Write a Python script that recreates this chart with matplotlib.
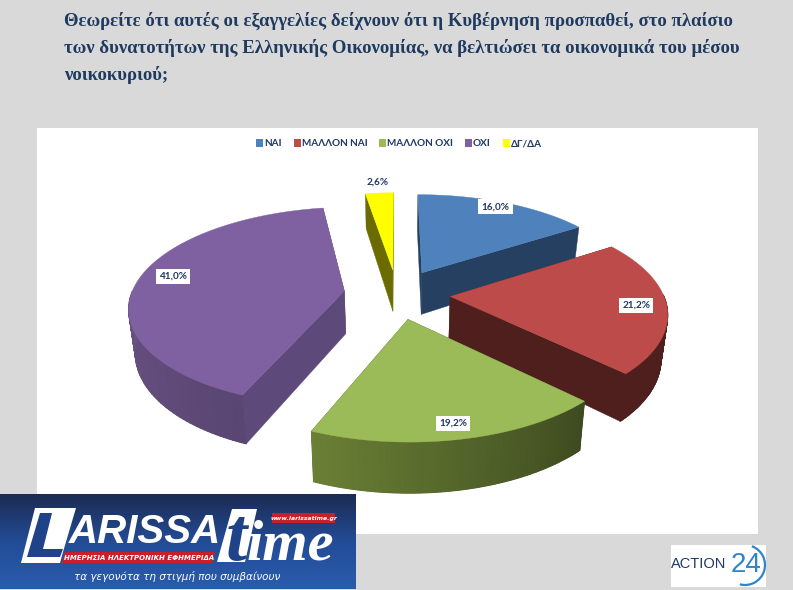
import numpy as np
import matplotlib
matplotlib.use('Agg')
import matplotlib.pyplot as plt
from matplotlib.patches import Polygon, Rectangle, Patch, Arc

# Chart data
title_lines = [
    'Θεωρείτε ότι αυτές οι εξαγγελίες δείχνουν ότι η Κυβέρνηση προσπαθεί, στο πλαίσιο',
    'των δυνατοτήτων της Ελληνικής Οικονομίας, να βελτιώσει τα οικονομικά του μέσου',
    'νοικοκυριού;',
]
categories = ['ΝΑΙ', 'ΜΑΛΛΟΝ ΝΑΙ', 'ΜΑΛΛΟΝ ΟΧΙ', 'ΟΧΙ', 'ΔΓ/ΔΑ']
values = [16.0, 21.2, 19.2, 41.0, 2.6]
top_colors = ['#4F81BD', '#BC4B49', '#9BBB59', '#7F60A0', '#FFFF00']
side_colors = ['#254061', '#4F1F1E', '#4A5A25', '#5E4A7A', '#6B6B00']
# outer wall shade at the start and at the end of each slice
wall_start = ['#254061', '#4F1F1E', '#3E4B20', '#5A4672', '#6B6B00']
wall_end = ['#254061', '#4F1F1E', '#6B8035', '#7A6199', '#6B6B00']
label_radius = [0.88, 0.86, 0.88, 0.83, 1.16]
label_nudge = [-3, 0, 0, -5, -1]

NAVY = '#1F3864'
CX, CY = 397, 294      # pie centre in picture pixels
RX, RY = 213, 100      # pie radii
PERSP = 0.152          # front of the pie is drawn bigger than the back
EXPLODE = 0.25
DEPTH = 43
SHRINK = 0.975         # bottom face is a little narrower than the top one


def proyectar(u, v):
    """Pie plane coordinates (v grows towards the viewer) to picture pixels."""
    s = 1 + PERSP * v
    return CX + RX * u * s, CY + RY * v * s


def bajar(x, y, v):
    """Same point on the bottom face of the pie."""
    return CX + (x - CX) * SHRINK, y + DEPTH * (1 + PERSP * v)


def punto_slice(ang, r, mid):
    u = EXPLODE * np.sin(mid) + r * np.sin(ang)
    v = -EXPLODE * np.cos(mid) - r * np.cos(ang)
    return u, v


def dibujar_slice(ax, i, a0, a1):
    mid = (a0 + a1) / 2
    top, side = top_colors[i], side_colors[i]
    angs = np.linspace(a0, a1, 120)
    ua, va = punto_slice(angs, 1.0, mid)
    xa, ya = proyectar(ua, va)
    uc, vc = punto_slice(mid, 0.0, mid)
    xc, yc = proyectar(uc, vc)
    xb, yb = bajar(xa, ya, va)
    xcb, ycb = bajar(xc, yc, vc)

    # cut faces
    for k in [0, -1]:
        cara = [(xc, yc), (xa[k], ya[k]), (xb[k], yb[k]), (xcb, ycb)]
        ax.add_patch(Polygon(cara, fc=side, ec=side, lw=0.3, zorder=2))

    # outer wall, only the part that faces the viewer
    c0 = np.array(matplotlib.colors.to_rgb(wall_start[i]))
    c1 = np.array(matplotlib.colors.to_rgb(wall_end[i]))
    vis = np.cos(angs) < 0.02
    if vis.sum() > 1:
        t = np.linspace(0, 1, len(angs))[vis]
        ax.add_patch(Polygon(np.column_stack([np.r_[xa[vis], xb[vis][::-1]], np.r_[ya[vis], yb[vis][::-1]]]),
                             fc=c0 * 0.5 + c1 * 0.5, ec='none', zorder=2))
        X = np.vstack([xa[vis], xb[vis]])
        Y = np.vstack([ya[vis], yb[vis]])
        C = c0[None, :] * (1 - t[:, None]) + c1[None, :] * t[:, None]
        ax.pcolormesh(X, Y, np.stack([C, C]), shading='gouraud', zorder=2)

    ax.add_patch(Polygon(np.column_stack([np.r_[xc, xa], np.r_[yc, ya]]), fc=top, ec=top, lw=0.3, zorder=2))


def dibujar_logo_larissa(ax):
    grad = np.linspace(0, 1, 95).reshape(-1, 1)
    ax.imshow(grad, extent=(0, 356, 589, 494), cmap=matplotlib.colors.LinearSegmentedColormap.from_list(
        'logo', ['#1C2B52', '#234C96', '#2A5CAC']), aspect='auto', zorder=5)
    ele = [(35, 508), (76, 508), (63, 552), (60, 563), (21, 563)]
    ax.add_patch(Polygon(ele, fc='white', ec='none', zorder=6))
    ele_int = [(40, 513), (52, 513), (43, 549), (63, 549), (60, 557), (27, 557)]
    ax.add_patch(Polygon(ele_int, fc='#1F4288', ec='none', zorder=6))
    ax.text(69, 543, 'ARISSA', color='white', fontsize=29, fontweight='bold', style='italic',
            family='Liberation Sans', va='baseline', zorder=7)
    ax.add_patch(Polygon([(232, 509), (257, 509), (245, 562), (217, 562)], fc='white', ec='none', zorder=6))
    ax.text(226, 560, 't', color='#1F4288', fontsize=55, fontweight='bold', style='italic',
            family='Liberation Serif', va='baseline', zorder=7)
    ax.text(247, 560, 'ime', color='white', fontsize=42, fontweight='bold', style='italic',
            family='Liberation Serif', va='baseline', zorder=7)
    ax.add_patch(Rectangle((272, 513), 63, 10, fc='#C8202B', ec='none', zorder=6))
    ax.text(303.5, 518.5, 'www.larissatime.gr', color='white', fontsize=4.4, fontweight='bold', style='italic',
            ha='center', va='center', zorder=7)
    ax.add_patch(Polygon([(65, 552), (215, 552), (212, 563), (62, 563)], fc='#C8202B', ec='none', zorder=6))
    ax.text(139, 557.5, 'ΗΜΕΡΗΣΙΑ ΗΛΕΚΤΡΟΝΙΚΗ ΕΦΗΜΕΡΙΔΑ', color='white', fontsize=5.0, fontweight='bold',
            style='italic', ha='center', va='center', zorder=7)
    ax.text(177, 576, 'τα γεγονότα τη στιγμή που συμβαίνουν', color='white', fontsize=7.5, style='italic',
            ha='center', va='center', zorder=7)


def dibujar_logo_action(ax):
    ax.add_patch(Rectangle((671, 545), 95, 42, fc='white', ec='none', zorder=5))
    ax.text(671, 564, 'ACTION', color='#1F3864', fontsize=10.5, family='Liberation Sans',
            ha='left', va='center', zorder=6)
    ax.text(746, 565, '24', color='#2E86C8', fontsize=20, family='Liberation Sans',
            ha='center', va='center', zorder=6)
    ax.add_patch(Arc((745, 565), 40, 40, theta1=-70, theta2=105, color='#2E86C8', lw=1.6, zorder=6))


fig = plt.figure(figsize=(7.93, 5.90), dpi=100, facecolor='#D9D9D9')
ax = fig.add_axes([0, 0, 1, 1])
ax.set_xlim(0, 793)
ax.set_ylim(590, 0)
ax.axis('off')

ax.add_patch(Rectangle((37, 128), 721, 406, fc='white', ec='none', zorder=1))

for i, linea in enumerate(title_lines):
    ax.text(64, 21 + 27 * i, linea, color='#1F3A5F', fontsize=13.5, fontweight='bold',
            family='Liberation Serif', va='center', ha='left')

# slice angles, clockwise from 12 o'clock
total = sum(values)
limites = np.r_[0, np.cumsum(values)] / total * 2 * np.pi
medios = (limites[:-1] + limites[1:]) / 2

# back slices first so the front ones cover them
orden = np.argsort(-np.cos(medios))
for i in orden:
    dibujar_slice(ax, i, limites[i], limites[i + 1])

for i in range(len(values)):
    u, v = punto_slice(medios[i], label_radius[i], medios[i])
    x, y = proyectar(u, v)
    etiqueta = f'{values[i]:.1f}%'.replace('.', ',')
    ax.text(x, y + label_nudge[i], etiqueta, color=NAVY, fontsize=7.2, fontweight='bold', family='Lato',
            ha='center', va='center', zorder=4,
            bbox=dict(fc='white', ec='none', pad=2.2))

handles = [Patch(fc=c, ec='none', label=n) for n, c in zip(categories, top_colors)]
leg = ax.legend(handles=handles, ncol=5, loc='center', bbox_to_anchor=(399 / 793, 1 - 143.5 / 590),
                bbox_transform=fig.transFigure, frameon=False, handlelength=0.7, handleheight=0.8,
                handletextpad=0.1, columnspacing=1.2,
                prop={'family': 'Lato', 'weight': 'bold', 'size': 7.2})
for t in leg.get_texts():
    t.set_color(NAVY)

dibujar_logo_larissa(ax)
dibujar_logo_action(ax)
ax.set_xlim(0, 793)
ax.set_ylim(590, 0)

fig.savefig('out.png', dpi=100, facecolor=fig.get_facecolor())
